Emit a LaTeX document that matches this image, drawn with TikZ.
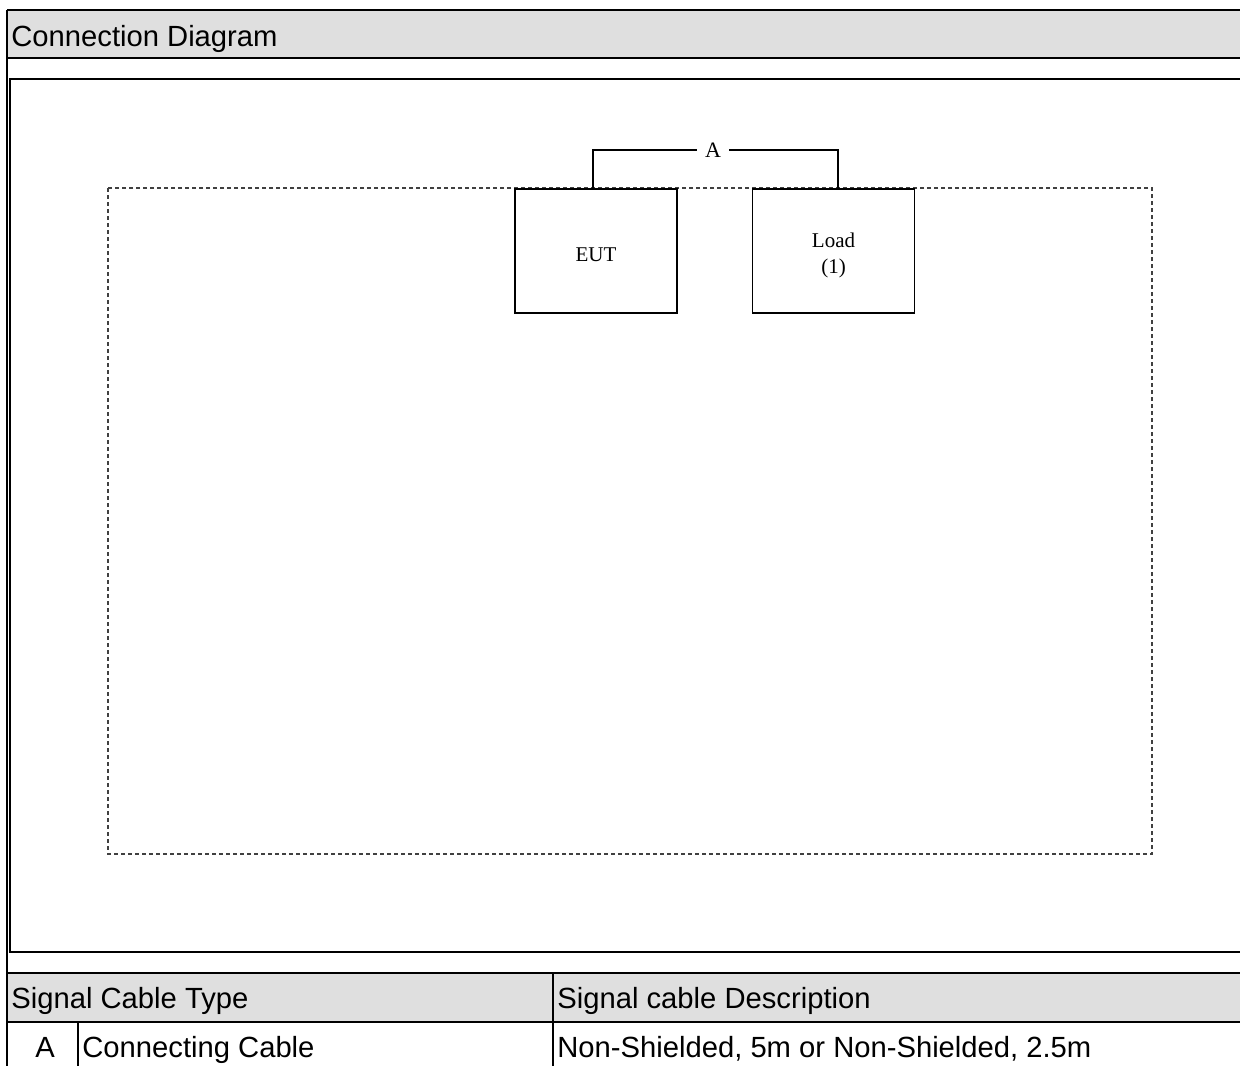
\documentclass[tikz,border=0pt]{standalone}
\usepackage{fontspec}
\setmainfont{Liberation Sans}
\newfontfamily\boxfont{Liberation Serif}
\definecolor{headgrey}{HTML}{DFDFDF}
\definecolor{planegrey}{HTML}{404040}

\begin{document}
\begin{tikzpicture}[
  x=0.5pt, y=-0.5pt,
  every node/.style={inner sep=1pt},
  rule/.style={draw, line width=1pt},
  band/.style={fill=headgrey},
  cell/.style={anchor=base west, font=\fontsize{14.6}{17}\selectfont},
  % equipment on the test table, and the cable between them
  unit/.style={draw, fill=white, line width=0.6pt, minimum width=81pt,
    minimum height=62pt, align=center, inner sep=0pt,
    font=\boxfont\fontsize{10.5}{13}\selectfont},
  tag/.style={inner xsep=4pt, font=\boxfont\fontsize{11}{13}\selectfont},
  cable/.style={draw, line width=0.6pt},
  plane/.style={draw=planegrey, line width=0.6pt, dash pattern=on 2pt off 1.5pt}]

  \useasboundingbox (0,0) rectangle (1240,1066);

  % grey bands
  \fill[band] (7,10) rectangle (1240,58);
  \fill[band] (7,973) rectangle (1240,1022);

  % ruling
  \draw[rule] (7,10) -- (7,1066);
  \draw[rule] (7,10) -- (1240,10);
  \draw[rule] (7,58) -- (1240,58);
  \draw[rule] (1240,79) -- (10,79) -- (10,952) -- (1240,952);
  \draw[rule] (7,973) -- (1240,973);
  \draw[rule] (7,1022) -- (1240,1022);
  \draw[rule] (553,973) -- (553,1066);
  \draw[rule] (78,1022) -- (78,1066);

  % table plane
  \draw[plane] (108,188) rectangle (1152,854);

  % vertices
  \node[unit] (eut)  at (596,251)   {\rule{0pt}{11pt}EUT};
  \node[unit] (load) at (833.5,251) {\rule{0pt}{11.5pt}Load\\(1)};
  \node[tag]  (lblA) at (713,150)   {A};

  % cable
  \draw[cable] ([xshift=-1.5pt]eut.north) |- (lblA.west);
  \draw[cable] (lblA.east) -| ([xshift=2.25pt]load.north);

  % texts
  \node[cell] (title)  at (9,46)     {Connection Diagram};
  \node[cell] (typehd) at (9,1008)   {Signal Cable Type};
  \node[cell] (deschd) at (555,1008) {Signal cable Description};
  \node[cell] (idA)    at (33,1057)  {A};
  \node[cell] (typeA)  at (80,1057)  {Connecting Cable};
  \node[cell] (descA)  at (555,1057) {Non-Shielded, 5m or Non-Shielded, 2.5m};
\end{tikzpicture}
\end{document}
